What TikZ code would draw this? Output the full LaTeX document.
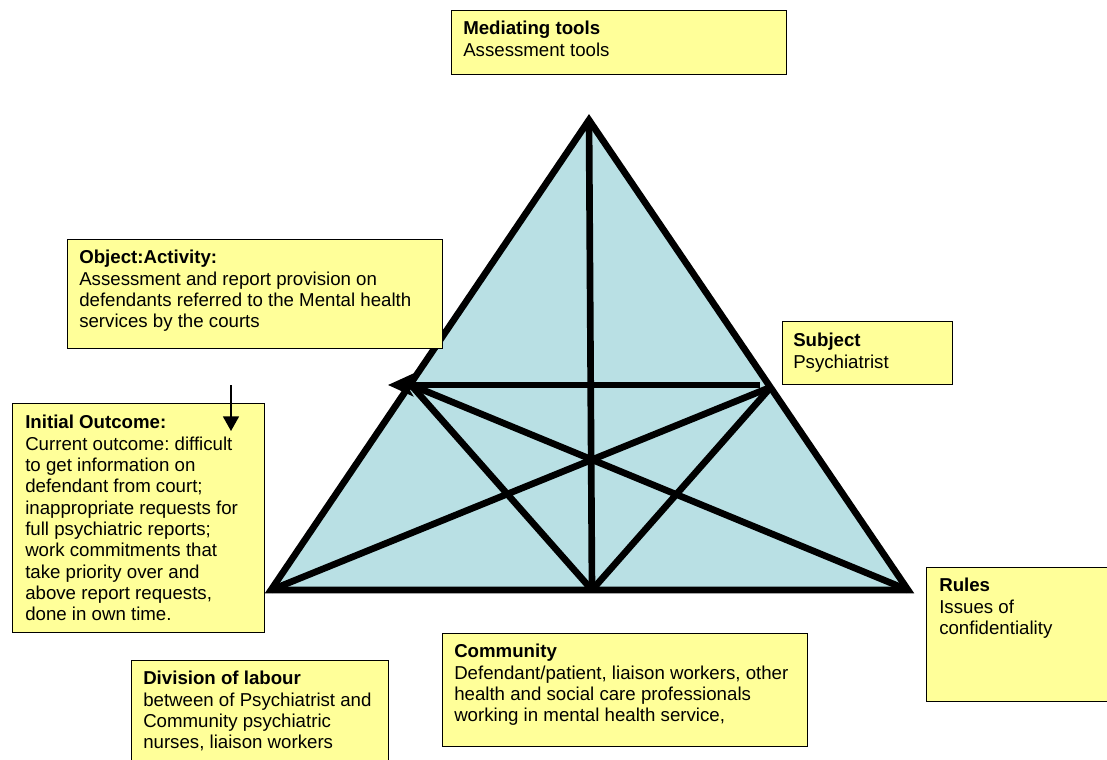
\documentclass[tikz,border=0pt]{standalone}
\usepackage{fontspec}
\setmainfont{Liberation Sans}
\usepackage{xcolor}
\usepackage{tikz}
\usetikzlibrary{arrows.meta}
\frenchspacing
\definecolor{boxyellow}{RGB}{255,255,153}
\definecolor{trifill}{RGB}{185,224,228}
\tikzset{
  box/.style={draw, line width=1.1pt, fill=boxyellow, anchor=north west, inner sep=0pt},
  txt/.style={anchor=north west, inner sep=0pt, align=left, font=\fontsize{14pt}{16pt}\selectfont},
  thickline/.style={line width=5pt, line join=miter}
}

\begin{document}
\begin{tikzpicture}[x=0.75pt,y=-0.75pt]
          \useasboundingbox (0,0) rectangle (1107,760);
          \coordinate (apex) at (589,120); \coordinate (bl) at (271,590);
          \coordinate (br) at (908,590); \coordinate (bm) at (592,590);
          \coordinate (lp) at (411,385); \coordinate (rp) at (771,387);
          \coordinate (hstart) at (760,385); \coordinate (htip) at (388,385);

          \filldraw[thickline, fill=trifill] (apex) -- (bl) -- (br) -- cycle;
          \draw[thickline] (apex) -- (bm);
          \draw[thickline] (lp) -- (bm);
          \draw[thickline] (rp) -- (bm);
          \draw[thickline] (bl) -- (rp);
          \draw[thickline] (lp) -- (br);
          \draw[thickline, -{Stealth[length=19pt,width=17pt,inset=5pt]}] (hstart) -- (htip);

          \node[box, minimum width=251.25pt, minimum height=48pt] (tools) at (451,10) {};
          \node[txt] (toolstxt) at ([shift={(12,11)}]tools.north west)
            {\textbf{Mediating tools}\\Assessment tools};

          \node[box, minimum width=281.25pt, minimum height=81.75pt] (object) at (67,239) {};
          \node[txt] (objecttxt) at ([shift={(12,11)}]object.north west)
            {\textbf{Object:Activity:}\\Assessment and report provision on\\defendants referred to the Mental health\\services by the courts};

          \node[box, minimum width=127.5pt, minimum height=47.25pt] (subject) at (782,321) {};
          \node[txt] (subjecttxt) at ([shift={(11,12)}]subject.north west)
            {\textbf{Subject}\\Psychiatrist};

          \node[box, minimum width=189pt, minimum height=171.75pt] (outcome) at (12,403) {};
          \node[txt] (outcometxt) at ([shift={(13,12)}]outcome.north west)
            {\textbf{Initial Outcome:}\\Current outcome: difficult\\to get information on\\defendant from court;\\inappropriate requests for\\full psychiatric reports;\\work commitments that\\take priority over and\\above report requests,\\done in own time.};
          \coordinate (outarrow) at (231,385);
          \draw[line width=1.3pt, -{Triangle[length=11pt,width=12pt]}] (outarrow) -- (231,431);

          \node[box, minimum width=141.75pt, minimum height=100.5pt] (rules) at (926,567) {};
          \node[txt] (rulestxt) at ([shift={(13,11)}]rules.north west)
            {\textbf{Rules}\\Issues of\\confidentiality};

          \node[box, minimum width=273.75pt, minimum height=84.75pt] (community) at (442,633) {};
          \node[txt] (communitytxt) at ([shift={(12,11)}]community.north west)
            {\textbf{Community}\\Defendant/patient, liaison workers, other\\health and social care professionals\\working in mental health service,};

          \node[box, minimum width=192.75pt, minimum height=86.25pt] (division) at (131,660) {};
          \node[txt] (divisiontxt) at ([shift={(12,11)}]division.north west)
            {\textbf{Division of labour}\\between of Psychiatrist and\\Community psychiatric\\nurses, liaison workers};
        \end{tikzpicture}
\end{document}
